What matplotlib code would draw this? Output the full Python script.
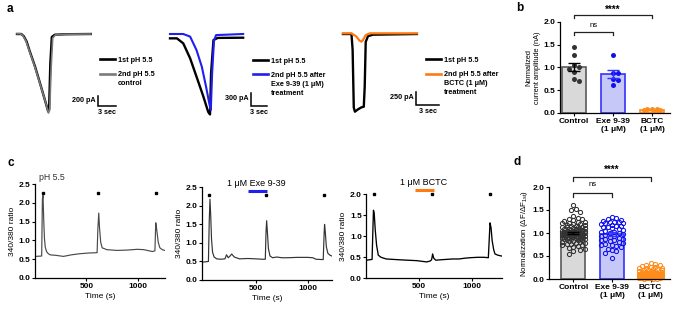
import numpy as np
import matplotlib
matplotlib.use('Agg')
import matplotlib.pyplot as plt
from matplotlib.lines import Line2D

plt.rcParams['font.family'] = ['Liberation Sans', 'DejaVu Sans']
plt.rcParams['font.weight'] = 'bold'
plt.rcParams['mathtext.default'] = 'regular'
plt.rcParams['axes.linewidth'] = 0.9
plt.rcParams['xtick.major.size'] = 2.2
plt.rcParams['ytick.major.size'] = 2.2
plt.rcParams['xtick.major.width'] = 0.8
plt.rcParams['ytick.major.width'] = 0.8
plt.rcParams['xtick.major.pad'] = 1.5
plt.rcParams['ytick.major.pad'] = 1.0

# ---------------- data ----------------
# panel a: current traces (time in s, current in pA)
a1_t_first = [0, 0.7, 1.1, 1.6, 2.05, 3.0, 3.85, 4.65, 5.2, 5.35, 5.55, 5.8, 6.3, 8, 12.3]
a1_i_first = [0, 0, -40, -150, -320, -650, -990, -1320, -1550, -1500, -600, -60, -15, -5, 0]
a1_t_second = [0, 0.6, 1.0, 1.5, 1.95, 2.9, 3.75, 4.6, 5.25, 5.45, 5.7, 5.95, 6.4, 8, 12.3]
a1_i_second = [5, 5, -35, -140, -300, -630, -960, -1300, -1580, -1520, -650, -80, -20, -5, 0]

a2_t_first = [0, 1.3, 2.5, 3.8, 5.0, 6.3, 7.2, 7.55, 7.75, 8.2, 9.0, 13.8]
a2_i_first = [-100, -100, -215, -560, -980, -1440, -1790, -1850, -900, -140, -90, -85]
a2_t_second = [0, 2.5, 3.8, 5.0, 6.0, 6.8, 7.4, 7.7, 7.95, 8.3, 8.7, 13.8]
a2_i_second = [0, 0, -60, -370, -750, -1210, -1590, -1750, -900, -150, -25, 0]

a3_t_first = [0, 1.1, 1.25, 1.4, 1.55, 1.95, 2.4, 2.7, 2.82, 2.95, 3.25, 3.9, 9.6]
a3_i_first = [0, 0, -300, -1400, -1476, -1431, -1393, -1381, -1000, -150, -40, -13, 0]
a3_t_second = [0, 1.1, 1.75, 2.15, 2.4, 2.6, 2.95, 3.5, 9.6]
a3_i_second = [13, 13, -50, -127, -146, -114, -20, 13, 13]

scale_pa = [200, 300, 250]
scale_sec = 3
labels_first = '1st pH 5.5'
labels_second = ['2nd pH 5.5\ncontrol',
                 '2nd pH 5.5 after\nExe 9-39 (1 \u03bcM)\ntreatment',
                 '2nd pH 5.5 after\nBCTC (1 \u03bcM)\ntreatment']

# panel b: normalized current amplitude (nA)
groups = ['Control', 'Exe 9-39\n(1 \u03bcM)', 'BCTC\n(1 \u03bcM)']
b_control = [1.45, 1.27, 1.06, 1.02, 0.97, 0.90, 0.74, 0.71]
b_exe = [1.28, 0.89, 0.87, 0.74, 0.72, 0.62]
b_bctc = [0.09, 0.08, 0.08, 0.07, 0.06, 0.05]

# panel c: 340/380 ratio traces
c1_t = [0, 65, 72, 78, 85, 92, 100, 112, 130, 150, 200, 277, 350, 430, 520, 605, 612, 621, 628, 640, 654,
        700, 801, 900, 997, 1060, 1144, 1168, 1176, 1185, 1200, 1216, 1240, 1265]
c1_r = [0.57, 0.58, 2.10, 2.20, 1.55, 1.05, 0.82, 0.70, 0.64, 0.61, 0.60, 0.57, 0.61, 0.64, 0.66, 0.67, 1.30, 1.73,
        1.35, 0.95, 0.80, 0.75, 0.73, 0.74, 0.76, 0.75, 0.70, 0.72, 1.47, 1.30, 0.95, 0.80, 0.75, 0.73]
c2_t = [-20, 40, 48, 55, 62, 70, 80, 95, 120, 160, 200, 215, 232, 250, 265, 290, 340, 420, 500, 560, 590, 597,
        603, 610, 620, 635, 660, 700, 750, 800, 900, 1000, 1050, 1080, 1150, 1158, 1163, 1170, 1180, 1195, 1215, 1230]
c2_r = [0.48, 0.50, 1.60, 2.18, 1.75, 1.10, 0.75, 0.62, 0.57, 0.56, 0.57, 0.68, 0.60, 0.65, 0.70, 0.62, 0.57,
        0.58, 0.57, 0.56, 0.56, 1.30, 1.60, 1.30, 0.85, 0.65, 0.60, 0.62, 0.60, 0.60, 0.61, 0.61, 0.60, 0.56,
        0.55, 1.20, 1.50, 1.30, 0.90, 0.72, 0.67, 0.65]
c3_t = [0, 55, 62, 68, 75, 85, 98, 114, 140, 190, 256, 320, 400, 480, 573, 605, 620, 630, 640, 660, 700, 760,
        820, 880, 940, 985, 1060, 1120, 1159, 1167, 1175, 1185, 1195, 1210, 1222, 1250, 1285]
c3_r = [0.43, 0.45, 1.10, 1.62, 1.55, 1.15, 0.78, 0.55, 0.50, 0.46, 0.45, 0.44, 0.43, 0.42, 0.39, 0.41, 0.44,
        0.58, 0.48, 0.43, 0.44, 0.45, 0.46, 0.46, 0.48, 0.49, 0.50, 0.50, 0.49, 0.90, 1.32, 1.20, 0.90, 0.68,
        0.58, 0.55, 0.53]
c1_stim = [75, 616, 1178]
c2_stim = [48, 594, 1162]
c3_stim = [73, 627, 1175]
c2_drug = [420, 603]
c3_drug = [462, 645]

# panel d: normalization (dF/dF1st)
d_control = [1.61, 1.52, 1.50, 1.45, 1.38, 1.33, 1.31, 1.30, 1.28, 1.27, 1.25, 1.24, 1.22, 1.21, 1.20, 1.19,
             1.18, 1.17, 1.16, 1.15, 1.14, 1.13, 1.12, 1.12, 1.11, 1.10, 1.09, 1.09, 1.08, 1.07, 1.06, 1.06,
             1.05, 1.05, 1.04, 1.03, 1.03, 1.02, 1.02, 1.01, 1.01, 1.00, 1.00, 0.99, 0.99, 0.98, 0.98, 0.97,
             0.97, 0.96, 0.96, 0.95, 0.95, 0.94, 0.94, 0.93, 0.93, 0.92, 0.92, 0.91, 0.91, 0.90, 0.90, 0.89,
             0.88, 0.88, 0.87, 0.86, 0.86, 0.85, 0.84, 0.83, 0.82, 0.81, 0.80, 0.79, 0.78, 0.77, 0.76, 0.75,
             0.74, 0.72, 0.70, 0.68, 0.66, 0.63, 0.60, 0.55, 1.04, 1.00, 0.97, 1.08, 0.95, 1.02]
d_exe = [1.34, 1.33, 1.30, 1.28, 1.27, 1.25, 1.24, 1.23, 1.22, 1.21, 1.20, 1.18, 1.16, 1.15, 1.13, 1.12, 1.10,
         1.08, 1.06, 1.05, 1.03, 1.02, 1.00, 0.99, 0.97, 0.96, 0.94, 0.93, 0.91, 0.90, 0.88, 0.87, 0.85, 0.84,
         0.82, 0.81, 0.79, 0.77, 0.75, 0.73, 0.71, 0.69, 0.66, 0.63, 0.60, 0.57, 0.45]
d_bctc = [0.35, 0.33, 0.31, 0.30, 0.29, 0.27, 0.26, 0.25, 0.24, 0.23, 0.22, 0.21, 0.20, 0.20, 0.19, 0.18, 0.18,
          0.17, 0.16, 0.16, 0.15, 0.15, 0.14, 0.14, 0.13, 0.13, 0.12, 0.12, 0.11, 0.11, 0.10, 0.10, 0.10, 0.09,
          0.09, 0.09, 0.08, 0.08, 0.08, 0.07, 0.07, 0.07, 0.06, 0.06, 0.06, 0.05, 0.05, 0.05, 0.04, 0.04, 0.04,
          0.03, 0.03, 0.03, 0.02, 0.02, 0.02, 0.01, 0.01, 0.01]

# colours
BLUE = '#1f1fef'
ORANGE = '#ff7a12'
bar_face = ['#d9d9d9', '#c6c8f7', '#ffe3c4']
bar_edge = ['#5a5a5a', '#3434ff', '#ff8c1a']
dot_col = ['#333333', '#1010f0', '#ff8c1a']

TICK_FS = 6
LAB_FS = 6

W, H = 680, 311
fig = plt.figure(figsize=(W / 100, H / 100), dpi=100)


def px_axes(x0, x1, y0, y1):
    # pixel position of the left/right and bottom/top data limits
    return fig.add_axes([x0 / W, 1 - y0 / H, (x1 - x0) / W, (y0 - y1) / H])


def fx(x):
    return x / W


def fy(y):
    return 1 - y / H


# ---------------- panel a ----------------
def trace_axes(left, right, top, bottom, t0_px, base_px, px_per_s, pa_per_px):
    ax = px_axes(left, right, bottom, top)
    ax.set_xlim((left - t0_px) / px_per_s, (right - t0_px) / px_per_s)
    ax.set_ylim(-(bottom - base_px) * pa_per_px, (base_px - top) * pa_per_px)
    ax.axis('off')
    return ax


def scalebar(ax, t, i, pa):
    ax.plot([t, t, t + scale_sec], [i + pa, i, i], color='black', lw=1.1,
            solid_joinstyle='miter', clip_on=False)
    ax.annotate('%d pA' % pa, (t, i + pa * 0.6), xytext=(-1.5, 0), textcoords='offset points',
                ha='right', va='center', fontsize=5.2)
    ax.annotate('%d sec' % scale_sec, (t + scale_sec / 2, i), xytext=(0, -2), textcoords='offset points',
                ha='center', va='top', fontsize=5.2)


def legend_keys(x_px, y_px, colors, texts):
    for k, (c, tx) in enumerate(zip(colors, texts)):
        yy = y_px + 14.5 * k
        fig.lines.append(Line2D([fx(x_px), fx(x_px + 15)], [fy(yy), fy(yy)], color=c, lw=1.9,
                                transform=fig.transFigure))
        fig.text(fx(x_px + 18), fy(yy - 2.4), tx, fontsize=5.2, ha='left', va='top',
                 linespacing=1.4, transform=fig.transFigure)


ax = trace_axes(5, 165, 20, 125, 17, 34, 6.0, 20)
ax.plot(a1_t_first, a1_i_first, color='black', lw=1.7)
ax.plot(a1_t_second, a1_i_second, color='#7a7a7a', lw=1.2)
scalebar(ax, 13.5, -1440, scale_pa[0])
legend_keys(100, 59, ['black', '#7a7a7a'], [labels_first, labels_second[0]])

ax = trace_axes(160, 330, 20, 125, 170, 34, 5.3, 23)
ax.plot(a2_t_first, a2_i_first, color='black', lw=1.7)
ax.plot(a2_t_second, a2_i_second, color=BLUE, lw=1.5)
scalebar(ax, 15.3, -1656, scale_pa[1])
legend_keys(253, 60, ['black', BLUE], [labels_first, labels_second[1]])

ax = trace_axes(335, 510, 20, 125, 343, 34, 7.7, 19)
ax.plot(a3_t_first, a3_i_first, color='black', lw=1.7)
ax.plot(a3_t_second, a3_i_second, color=ORANGE, lw=1.6)
scalebar(ax, 9.5, -1349, scale_pa[2])
legend_keys(426, 59, ['black', ORANGE], [labels_first, labels_second[2]])


# ---------------- bar + scatter helpers ----------------
def swarm_offsets(vals, y_ppu, x_ppu, diam, half_px):
    placed = []
    offs = np.zeros(len(vals))
    order = np.argsort(vals)[::-1]
    cands = [0.0]
    k = 1
    while k * diam * 0.5 <= half_px:
        cands += [k * diam * 0.5, -k * diam * 0.5]
        k += 1
    for idx in order:
        y = vals[idx] * y_ppu
        best, best_d = None, -1
        for dx in cands:
            if placed:
                d = min(np.hypot(dx - px, y - py) for px, py in placed)
            else:
                d = 1e9
            if d >= diam:
                best = dx
                break
            if d > best_d:
                best_d, best = d, dx
        placed.append((best, y))
        offs[idx] = best / x_ppu
    return offs


def bar_panel(ax, data, y_ppu, x_ppu, open_markers, ms, half_px):
    for k, vals in enumerate(data):
        vals = np.array(vals)
        m = vals.mean()
        sem = vals.std(ddof=1) / np.sqrt(len(vals))
        ax.bar(k, m, width=0.62, color=bar_face[k], edgecolor=bar_edge[k], lw=1.2, zorder=1)
        offs = swarm_offsets(vals, y_ppu, x_ppu, ms * 1.39 + 0.3, half_px)
        if open_markers:
            ax.plot(k + offs, vals, 'o', ms=ms, mfc='none', mec=dot_col[k], mew=0.75,
                    zorder=2, clip_on=False)
        else:
            ax.plot(k + offs, vals, 'o', ms=ms, color=dot_col[k], mew=0, zorder=2, clip_on=False)
        ecol = 'black' if k == 0 else bar_edge[k]
        ax.errorbar(k, m, yerr=sem, color=ecol, capsize=4.5, capthick=1.0, elinewidth=1.0, zorder=3)
    ax.set_xticks(range(3))
    ax.set_xticklabels(groups, fontsize=TICK_FS, linespacing=1.15)
    ax.set_ylim(0, 2.0)
    ax.set_yticks([0, 0.5, 1.0, 1.5, 2.0])
    ax.set_yticklabels(['0.0', '0.5', '1.0', '1.5', '2.0'], fontsize=TICK_FS)
    ax.spines['top'].set_visible(False)
    ax.spines['right'].set_visible(False)


def bracket(ax, x0, x1, y, drop, txt, ty, size, weight):
    ax.plot([x0, x0, x1, x1], [y - drop, y, y, y - drop], color='#222222', lw=0.9, clip_on=False)
    ax.text((x0 + x1) / 2, ty, txt, ha='center', va='center', fontsize=size, fontweight=weight)


# ---------------- panel b ----------------
axb = px_axes(560, 669.6, 113, 22)
axb.set_xlim(-0.36, 2.45)
bar_panel(axb, [b_control, b_exe, b_bctc], 45.5, 39, False, 3.6, 10)
axb.set_ylabel('Normalized\ncurrent amplitude (nA)', fontsize=5.3, labelpad=2, linespacing=1.3)
bracket(axb, 0, 1, 1.78, 0.07, 'ns', 1.93, 5.5, 'normal')
bracket(axb, 0, 2, 2.15, 0.07, '****', 2.27, 7, 'bold')

# ---------------- panel d ----------------
axd = px_axes(549, 670, 279, 187)
axd.set_xlim(-0.63, 2.5)
bar_panel(axd, [d_control, d_exe, d_bctc], 46, 38.6, True, 3.0, 12.5)
axd.set_ylabel('Normalization ($\\Delta$F/$\\Delta$F$_{1st}$)', fontsize=5.7, labelpad=2)
bracket(axd, 0, 1, 1.87, 0.08, 'ns', 2.05, 5.5, 'normal')
bracket(axd, 0, 2, 2.22, 0.09, '****', 2.37, 7, 'bold')


# ---------------- panel c ----------------
def ratio_panel(ax, t, r, stim, stim_y, color, lw, ymax, xlim):
    ax.plot(t, r, color=color, lw=lw)
    ax.plot(stim, [stim_y] * len(stim), 's', color='black', ms=1.7, clip_on=False)
    ax.set_xlim(*xlim)
    ax.set_ylim(0, ymax)
    ax.set_xticks([500, 1000])
    ax.set_xticklabels(['500', '1000'], fontsize=TICK_FS)
    yt = np.arange(0, ymax + 0.01, 0.5)
    ax.set_yticks(yt)
    ax.set_yticklabels(['%.1f' % v for v in yt], fontsize=TICK_FS)
    ax.set_xlabel('Time (s)', fontsize=LAB_FS, labelpad=2)
    ax.set_ylabel('340/380 ratio', fontsize=LAB_FS, labelpad=2)
    ax.spines['top'].set_visible(False)
    ax.spines['right'].set_visible(False)


ax1 = px_axes(35, 165.4, 277.7, 184.3)
ratio_panel(ax1, c1_t, c1_r, c1_stim, 2.28, '#4a4a4a', 0.85, 2.5, (0, 1270))
ax1.text(42, 2.67, 'pH 5.5', fontsize=6.3, fontweight='normal', ha='left', va='center', color='#333333')

ax2 = px_axes(201.7, 331.7, 280, 187.3)
ratio_panel(ax2, c2_t, c2_r, c2_stim, 2.29, '#333333', 0.85, 2.5, (-25, 1232))
ax2.plot(c2_drug, [2.4, 2.4], color=BLUE, lw=2.2, solid_capstyle='butt', clip_on=False)
ax2.text(500, 2.6, '1 \u03bcM Exe 9-39', fontsize=6.5, fontweight='normal', ha='center', va='center')

ax3 = px_axes(366.3, 501.6, 278.3, 194.3)
ratio_panel(ax3, c3_t, c3_r, c3_stim, 2.0, 'black', 0.95, 2.0, (0, 1285))
ax3.plot(c3_drug, [2.1, 2.1], color=ORANGE, lw=2.2, solid_capstyle='butt', clip_on=False)
ax3.text(542, 2.27, '1 \u03bcM BCTC', fontsize=6.5, fontweight='normal', ha='center', va='center')

# panel letters
for lt, x, y in [('a', 7, 9), ('b', 516, 8), ('c', 7, 163), ('d', 514, 162)]:
    fig.text(fx(x), fy(y), lt, fontsize=8.5, fontweight='bold', ha='left', va='center')

fig.savefig('out.png', dpi=100)
